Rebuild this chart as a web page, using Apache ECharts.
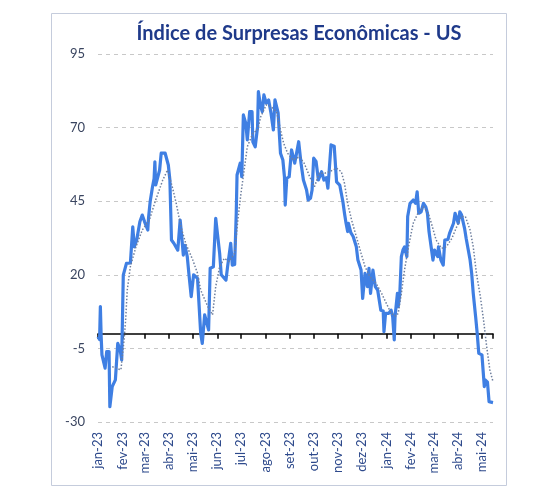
<!DOCTYPE html>
<html>
<head>
<meta charset="utf-8">
<script src="https://cdn.jsdelivr.net/npm/echarts@6/dist/echarts.min.js"></script>
<style>
html,body{margin:0;padding:0;background:#fff;}
#chart{width:544px;height:494px;}
</style>
</head>
<body>
<div id="chart"></div>
<script>
// Day offsets from 2023-01-01 and index values
const surpriseDays = [0,2,3,4,5,9,11,14,15,18,22,25,28,30,32,36,41,44,46,49,53,56,59,63,64,66,69,71,72,73,76,78,80,85,89,91,93,96,101,104,106,108,110,113,115,118,121,126,130,132,135,140,142,146,149,154,156,162,164,168,170,173,175,176,180,182,184,187,189,192,195,196,199,202,203,206,208,210,213,216,219,222,224,228,231,234,236,237,239,242,245,249,254,257,260,264,266,269,271,273,276,279,283,286,289,291,293,295,299,302,306,310,312,314,316,317,320,323,327,329,333,335,338,341,343,345,348,351,354,358,361,362,364,368,371,373,375,376,379,380,382,384,386,388,391,392,395,399,402,404,406,409,412,415,417,419,421,424,426,430,431,434,437,439,443,445,450,452,454,456,458,460,462,464,466,468,471,473,475,478,480,482,486,489,490,493,495,500];
const surpriseValues = [-1,-2,9.2,-1,-7.2,-11.7,-6.1,-6.1,-24.8,-18,-15.7,-3.3,-5.5,-8.9,19.9,23.9,24,36.3,29.5,31.8,38,40.3,38,35.2,39.4,44.8,49.9,52.7,58.4,50.5,53.5,55.6,61.3,61.3,57.3,52.2,31.8,30.7,28.4,38.6,33,26.7,30,26.2,20.5,12.6,20,18.8,0.1,-3.3,6.4,1.3,22.2,22.7,39.2,27.3,20,18.2,22.7,30.7,23.3,23.5,40.9,53.9,57.9,53.3,74.3,71.5,65.8,75.4,75.4,65.2,63.5,70.3,82.2,77.1,75.4,81.1,78.3,79.4,74.9,69.2,79.4,75,61.3,59,53.3,43.7,52.8,53.3,62.4,57.9,65.2,57.9,52.2,48.8,45.4,46,48.8,59.6,58.5,52.2,55,52.2,53,49.4,56.7,64.1,63.7,51.6,50.5,44.8,40.9,37.5,34.7,37.5,34.3,33,29.5,25,21.6,12,20.5,16,22.2,13.7,21.6,16,14.8,8,7.7,0.7,6.9,6.9,8,5.8,-2.1,5.8,13.7,9.2,13.4,26.2,28.4,29.5,26.2,39.8,44.3,45.4,44.3,48.2,40.9,41.4,44.3,43,40.9,34.7,35.2,25,28.4,26.2,29.5,25,23.3,31.8,32,34.1,37.5,40.9,41.4,37.5,41.4,40.5,40.9,35.8,32.4,32,25,20.5,13.7,5.8,0.1,-6.7,-7.2,-18,-15.7,-16.5,-23.1,-23.4];

// Dotted moving-average line
const avgDays = [18,29,33,35,37,41,48,56,65,73,82,88,94,99,105,111,120,126,130,139,145,149,154,160,166,173,177,181,185,189,196,202,206,213,219,226,231,235,240,247,255,261,268,274,280,287,293,302,308,312,316,321,327,333,338,344,352,359,365,371,377,380,384,388,393,399,405,412,418,422,428,435,441,448,454,460,465,471,475,479,484,488,492,496,500];
const avgValues = [-11.2,-12.3,-2.1,4.7,14.8,22.8,29.5,35.2,38.6,45.4,52.2,55.6,49.9,44.3,36.3,30.7,25,20.5,14.8,9.2,6.4,16,22.8,25.6,24.5,27.3,38.6,47.7,55.6,63.5,68.1,69.2,73.7,77.7,77.1,75.4,69.2,64.7,61.3,59,60.1,57.9,53.3,49.9,54.5,54.5,55,56.2,55,51.1,44.3,38.6,33,27.3,22.8,19.4,17.1,13.7,10.3,6.9,6,6.9,13.7,21.6,29.5,37.5,40.9,43.1,40.9,37.5,31.8,29,29.5,32.4,36.3,39.8,39.8,35.2,29.5,20.5,12.6,4.7,-4.4,-12.3,-16.3];

const monthNames = ['jan','fev','mar','abr','mai','jun','jul','ago','set','out','nov','dez'];
const yTicks = {min: -30, max: 95, interval: 25};
const titleText = 'Índice de Surpresas Econômicas - US';

function toTime(d) { return new Date(2023, 0, 1 + d).getTime(); }
const mainData = surpriseDays.map((d, i) => [toTime(d), surpriseValues[i]]);
const avgData = avgDays.map((d, i) => [toTime(d), avgValues[i]]);
const xMin = toTime(0);
const xMax = toTime(500);
const DAY = 86400000;

const chart = echarts.init(document.getElementById('chart'), null, {renderer: 'canvas'});
chart.setOption({
  animation: false,
  backgroundColor: '#ffffff',
  title: {
    text: titleText,
    left: 294,
    top: 19,
    textAlign: 'center',
    textStyle: {fontFamily: 'Lato', fontWeight: 'bold', fontSize: 20, color: '#1F3A8A'}
  },
  graphic: [{
    type: 'rect',
    shape: {x: 51.5, y: 13.5, width: 455, height: 472},
    style: {fill: 'none', stroke: '#C5CCDC', lineWidth: 1},
    silent: true, z: -1
  }],
  grid: {left: 98, right: 51, top: 54, bottom: 72, containLabel: false},
  xAxis: [{
    type: 'time',
    min: xMin, max: xMax,
    splitNumber: 17,
    minInterval: 28 * DAY,
    maxInterval: 31 * DAY,
    axisLine: {show: false, onZero: false},
    axisTick: {show: false},
    splitLine: {show: false},
    axisLabel: {
      rotate: 90,
      margin: 10,
      fontFamily: 'Lato',
      fontSize: 13,
      color: '#2E4A8C',
      showMinLabel: true,
      showMaxLabel: false,
      formatter: function (value) {
        const d = new Date(value);
        return monthNames[d.getMonth()] + '-' + String(d.getFullYear()).slice(2);
      }
    }
  }, {
    type: 'time',
    position: 'bottom',
    min: xMin, max: xMax,
    splitNumber: 17,
    minInterval: 28 * DAY,
    maxInterval: 31 * DAY,
    axisLine: {show: true, onZero: true, lineStyle: {color: '#000000', width: 1.5}},
    axisTick: {show: true, length: 5, lineStyle: {color: '#000000', width: 1.5}},
    axisLabel: {show: false},
    splitLine: {show: false}
  }],
  yAxis: {
    type: 'value',
    min: yTicks.min, max: yTicks.max, interval: yTicks.interval,
    axisLine: {show: false},
    axisTick: {show: false},
    axisLabel: {fontFamily: 'Lato', fontSize: 13, color: '#3A4560', margin: 13},
    splitLine: {show: true, lineStyle: {color: '#C8C8C8', type: [4, 4], width: 1}}
  },
  series: [{
    type: 'line',
    name: 'avg',
    xAxisIndex: 0,
    data: avgData,
    showSymbol: false,
    lineStyle: {color: '#6E7F9E', width: 1.5, type: [1.5, 1.8]},
    z: 3
  }, {
    type: 'line',
    name: 'index',
    xAxisIndex: 0,
    data: mainData,
    showSymbol: false,
    lineStyle: {color: '#3F7FE3', width: 3.2, join: 'round'},
    z: 2
  }]
});
</script>
</body>
</html>
